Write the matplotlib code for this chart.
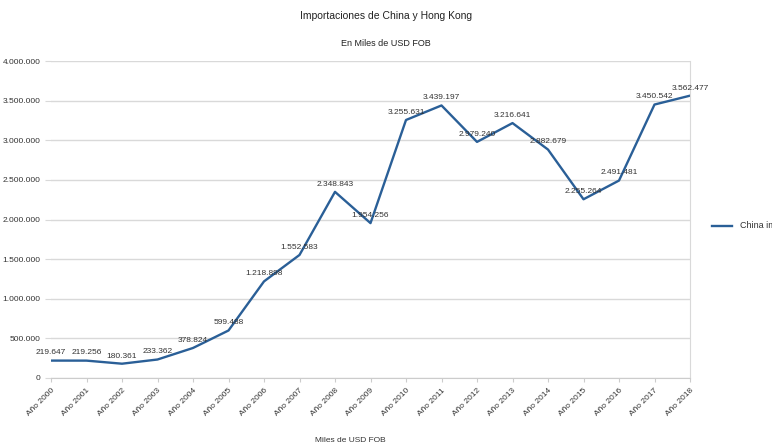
import matplotlib.pyplot as plt
from matplotlib.lines import Line2D
from matplotlib.ticker import FuncFormatter

plt.rcParams['font.family'] = ['Liberation Sans', 'DejaVu Sans']

# data (miles de USD FOB)
years = ['Año %d' % y for y in range(2000, 2019)]
imports = [219647, 219256, 180361, 233362, 378824, 599488, 1218898, 1552583,
           2348843, 1954256, 3255631, 3439197, 2979240, 3216641, 2882679,
           2255264, 2491481, 3450542, 3562477]

txt_color = '#333333'
line_color = '#2a5f97'

def miles(v, pos=None):
    return '{:,.0f}'.format(v).replace(',', '.')

fig = plt.figure(figsize=(7.72, 4.46), dpi=100)
ax = fig.add_axes([51/772, 1 - 378/446, (690 - 51)/772, (378 - 61)/446])

x = list(range(len(years)))
ax.plot(x, imports, color=line_color, linewidth=1.7)

for xi, v in zip(x, imports):
    ax.annotate(miles(v), (xi, v), xytext=(0, 3), textcoords='offset points',
                ha='center', va='bottom', fontsize=6, color=txt_color)

ax.set_xlim(0, len(years) - 1)
ax.set_ylim(0, 4000000)
ax.set_yticks(range(0, 4000001, 500000))
ax.yaxis.set_major_formatter(FuncFormatter(miles))
ax.set_xticks(x)
ax.set_xticklabels(years, rotation=45, ha='right', rotation_mode='anchor')
ax.tick_params(axis='x', labelsize=6, colors=txt_color, length=3, color='#cccccc')
ax.tick_params(axis='y', labelsize=6, colors=txt_color, length=4, color='#d9d9d9')
ax.grid(axis='y', color='#d9d9d9', linewidth=1)
ax.set_axisbelow(True)
for side in ['top', 'left']:
    ax.spines[side].set_visible(False)
ax.spines['right'].set_color('#d9d9d9')
ax.spines['bottom'].set_color('#cccccc')

fig.text(0.5, 1 - 16/446, 'Importaciones de China y Hong Kong', ha='center', va='center',
         fontsize=7.5, color='#222222')
fig.text(0.5, 1 - 44/446, 'En Miles de USD FOB', ha='center', va='center',
         fontsize=6.5, color='#222222')
fig.text(350/772, 1 - 440/446, 'Miles de USD FOB', ha='center', va='center',
         fontsize=6, color=txt_color)

# legend (cut off at the right edge as in the original)
fig.add_artist(Line2D([712/772, 732/772], [1 - 226/446] * 2, color=line_color, linewidth=1.7))
fig.text(740/772, 1 - 226/446, 'China importaciones', ha='left', va='center',
         fontsize=6.5, color=txt_color)

fig.savefig('out.png', dpi=100)
